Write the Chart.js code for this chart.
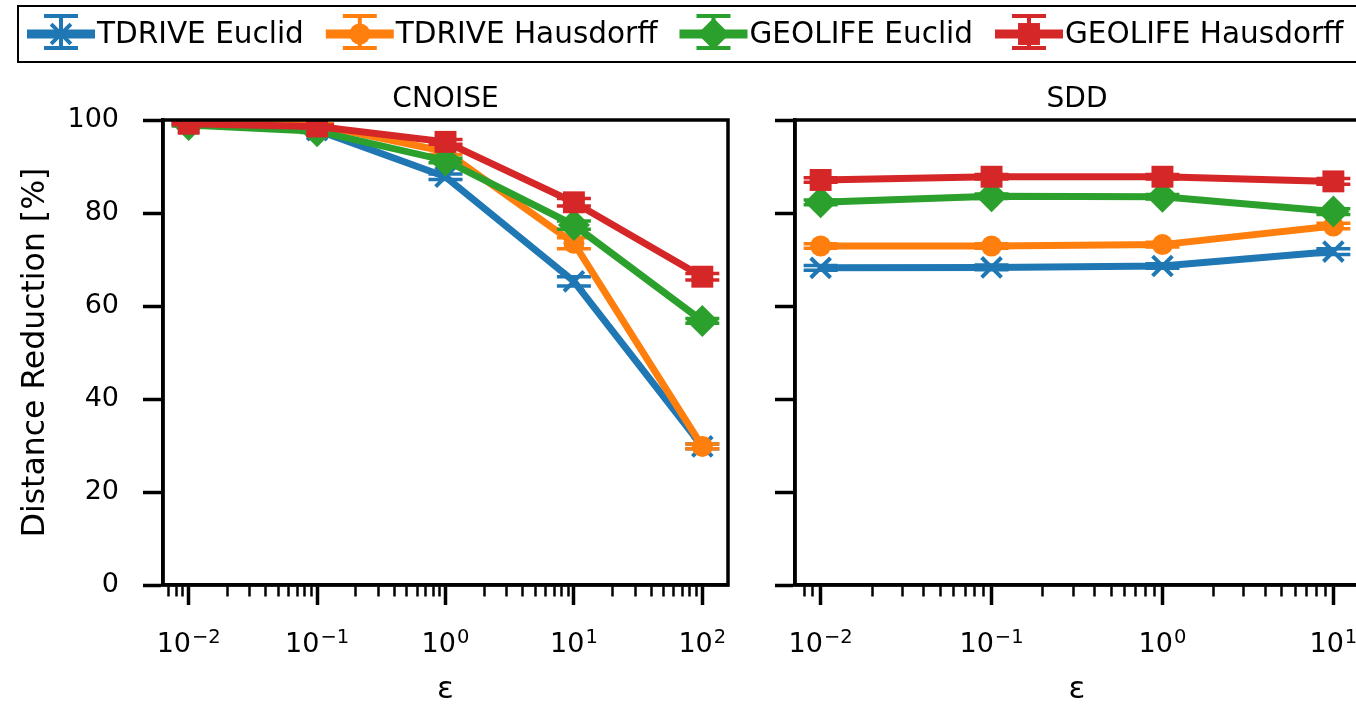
<!DOCTYPE html>
<html><head><meta charset="utf-8">
<script src="https://cdn.jsdelivr.net/npm/chart.js@4/dist/chart.umd.min.js"></script>
<style>
html,body{margin:0;padding:0;background:#fff;overflow:hidden;width:1356px;height:705px;}
#wrap{position:relative;width:1356px;height:705px;overflow:hidden;background:#fff;}
#cA{position:absolute;left:0;top:0;}
#cB{position:absolute;left:700px;top:0;}
</style></head><body>
<div id="wrap"><canvas id="cA" width="1360" height="705"></canvas><canvas id="cB" width="700" height="705"></canvas></div>
<script>
// ---- data ----
const seriesNames = ['TDRIVE Euclid', 'TDRIVE Hausdorff', 'GEOLIFE Euclid', 'GEOLIFE Hausdorff'];
const panelTitles = ['CNOISE', 'SDD'];
const epsCnoise = [0.01, 0.1, 1, 10, 100];
const epsSdd = [0.01, 0.1, 1, 10];
const xTickValues = [0.01, 0.1, 1, 10, 100];
const xTickBases = ['10', '10', '10', '10', '10'];
const xTickExponents = ['\u22122', '\u22121', '0', '1', '2'];
const yTickValues = [0, 20, 40, 60, 80, 100];

const cnoiseTdriveEuclid      = [99.2, 97.8, 87.8, 65.3, 29.8];
const cnoiseTdriveHausdorff   = [99.5, 98.9, 93.2, 73.5, 29.8];
const cnoiseGeolifeEuclid     = [98.9, 97.6, 91.3, 77.4, 56.8];
const cnoiseGeolifeHausdorff  = [99.2, 98.6, 95.3, 82.3, 66.3];
const cnoiseTdriveEuclidErr     = [0.2, 0.3, 0.6, 1.0, 0.5];
const cnoiseTdriveHausdorffErr  = [0.2, 0.3, 0.6, 1.2, 0.5];
const cnoiseGeolifeEuclidErr    = [0.2, 0.3, 0.5, 0.9, 0.5];
const cnoiseGeolifeHausdorffErr = [0.2, 0.3, 0.5, 0.8, 0.7];

const sddTdriveEuclid      = [68.2, 68.3, 68.6, 71.7];
const sddTdriveHausdorff   = [72.9, 72.9, 73.2, 77.2];
const sddGeolifeEuclid     = [82.3, 83.6, 83.5, 80.3];
const sddGeolifeHausdorff  = [87.1, 87.8, 87.8, 86.8];
const sddTdriveEuclidErr     = [0.5, 0.5, 0.5, 0.6];
const sddTdriveHausdorffErr  = [0.5, 0.5, 0.5, 0.6];
const sddGeolifeEuclidErr    = [0.5, 0.5, 0.5, 0.6];
const sddGeolifeHausdorffErr = [0.5, 0.5, 0.5, 0.6];

// ---- styles ----
const FONT = 'DejaVu Sans';
const seriesColors = ['#1f77b4', '#ff7f0e', '#2ca02c', '#d62728'];
const seriesMarkers = ['crossRot', 'circle', 'rectRot', 'rect'];
const markerRadius = [14, 10.5, 16, 15.5];
const markerBorder = [4, 0, 0, 0];
const LINE_W = 7, SPINE_W = 3.5;

function makeDatasets(xs, valsList, errList) {
  return valsList.map((vals, i) => ({
    label: seriesNames[i],
    data: xs.map((x, j) => ({x: x, y: vals[j]})),
    errors: errList[i],
    borderColor: seriesColors[i],
    backgroundColor: seriesColors[i],
    borderWidth: LINE_W,
    pointStyle: seriesMarkers[i],
    pointRadius: markerRadius[i],
    pointBorderWidth: markerBorder[i],
    pointBackgroundColor: seriesColors[i],
    pointBorderColor: seriesColors[i],
    pointHoverRadius: markerRadius[i],
    tension: 0,
    order: 4 - i,
    clip: 0
  }));
}

function majorIndex(v) {
  return xTickValues.findIndex(t => Math.abs(t - v) < 1e-9 * t);
}

function buildLogTicks(scale) {
  const ticks = [];
  const lo = Math.floor(Math.log10(scale.min)), hi = Math.ceil(Math.log10(scale.max));
  for (let n = lo; n <= hi; n++) {
    for (let k = 1; k <= 9; k++) {
      const v = k * Math.pow(10, n);
      if (v >= scale.min && v <= scale.max) ticks.push({value: v, major: k === 1});
    }
  }
  scale.ticks = ticks;
}

function drawMarker(ctx, i, x, y) {
  ctx.save();
  ctx.fillStyle = seriesColors[i];
  ctx.strokeStyle = seriesColors[i];
  ctx.lineWidth = markerBorder[i];
  Chart.helpers.drawPoint(ctx, {pointStyle: seriesMarkers[i], radius: markerRadius[i], borderWidth: markerBorder[i], rotation: 0}, x, y);
  ctx.restore();
}

const errorBarPlugin = {
  id: 'errbars',
  afterDatasetDraw(chart, args) {
    const ds = chart.data.datasets[args.index];
    if (!ds.errors) return;
    const ctx = chart.ctx, a = chart.chartArea;
    const xs = chart.scales.x, ys = chart.scales.y;
    ctx.save();
    ctx.beginPath(); ctx.rect(a.left, a.top, a.right - a.left, a.bottom - a.top); ctx.clip();
    ctx.strokeStyle = ds.borderColor;
    ds.data.forEach((p, j) => {
      const e = ds.errors[j];
      const px = xs.getPixelForValue(p.x);
      const yT = ys.getPixelForValue(p.y + e), yB = ys.getPixelForValue(p.y - e);
      ctx.lineWidth = 4;
      ctx.beginPath(); ctx.moveTo(px, yT); ctx.lineTo(px, yB); ctx.stroke();
      ctx.lineWidth = 3.5;
      ctx.beginPath();
      ctx.moveTo(px - 17, yT); ctx.lineTo(px + 17, yT);
      ctx.moveTo(px - 17, yB); ctx.lineTo(px + 17, yB);
      ctx.stroke();
    });
    ctx.restore();
  }
};

const framePlugin = {
  id: 'frame',
  afterDraw(chart, args, opts) {
    const ctx = chart.ctx, a = chart.chartArea;
    ctx.save();
    ctx.strokeStyle = '#000'; ctx.lineWidth = SPINE_W;
    ctx.strokeRect(a.left, a.top, a.right - a.left, a.bottom - a.top);
    // panel title
    ctx.fillStyle = '#000';
    ctx.font = '28px "' + FONT + '"';
    ctx.textAlign = 'center'; ctx.textBaseline = 'alphabetic';
    ctx.fillText(opts.text, (a.left + a.right) / 2, a.top - 13);
    // x tick labels with superscript exponents (matplotlib mathtext style)
    const xs = chart.scales.x;
    ctx.textAlign = 'left';
    const baseY = a.bottom + 67;
    xTickValues.forEach((v, k) => {
      if (v < xs.min || v > xs.max) return;
      const px = xs.getPixelForValue(v);
      ctx.font = '27px "' + FONT + '"';
      const wb = ctx.measureText(xTickBases[k]).width;
      ctx.font = '19.5px "' + FONT + '"';
      const we = ctx.measureText(xTickExponents[k]).width;
      const x0 = px - (wb + we + 1) / 2;
      ctx.font = '27px "' + FONT + '"';
      ctx.fillText(xTickBases[k], x0, baseY);
      ctx.font = '19.5px "' + FONT + '"';
      ctx.fillText(xTickExponents[k], x0 + wb + 1, baseY - 9);
    });
    ctx.restore();
  }
};

const legendPlugin = {
  id: 'mplLegend',
  afterDraw(chart, args, opts) {
    if (!opts.show) return;
    const ctx = chart.ctx;
    ctx.save();
    ctx.fillStyle = '#fff';
    ctx.fillRect(18, 6, 1400, 56);
    ctx.strokeStyle = '#000'; ctx.lineWidth = 2;
    ctx.strokeRect(18, 6, 1400, 56);
    ctx.font = '29.5px "' + FONT + '"';
    ctx.textBaseline = 'middle'; ctx.textAlign = 'left';
    let x = 27;
    const yc = 34;
    chart.data.datasets.forEach((ds, i) => {
      const c = seriesColors[i];
      ctx.strokeStyle = c;
      ctx.lineWidth = LINE_W + 2;
      ctx.beginPath(); ctx.moveTo(x, yc); ctx.lineTo(x + 68, yc); ctx.stroke();
      const cx = x + 34;
      ctx.lineWidth = 4;
      ctx.beginPath(); ctx.moveTo(cx, 16); ctx.lineTo(cx, 48); ctx.stroke();
      ctx.beginPath(); ctx.moveTo(cx - 17, 16); ctx.lineTo(cx + 17, 16);
      ctx.moveTo(cx - 17, 48); ctx.lineTo(cx + 17, 48); ctx.stroke();
      drawMarker(ctx, i, cx, yc);
      ctx.fillStyle = '#000';
      const tx = x + 70;
      ctx.fillText(ds.label, tx, yc + 1);
      x = tx + ctx.measureText(ds.label).width + 22;
    });
    ctx.restore();
  }
};

function xAxis(minV, maxV) {
  return {
    type: 'logarithmic',
    min: minV, max: maxV,
    afterBuildTicks: buildLogTicks,
    afterFit: s => { s.height = 120; },
    ticks: {
      autoSkip: false, maxRotation: 0, minRotation: 0,
      font: {family: FONT, size: 27}, color: '#000', padding: 6,
      callback: () => ''
    },
    grid: {
      drawOnChartArea: false, drawTicks: true, tickLength: 20,
      tickColor: '#000',
      tickWidth: c => majorIndex(c.tick.value) >= 0 ? 3.5 : 2.5,
      tickBorderDash: c => majorIndex(c.tick.value) >= 0 ? [] : [10, 100]
    },
    border: {display: true, color: '#000', width: SPINE_W},
    title: {display: true, text: '\u03B5', font: {family: FONT, size: 31, lineHeight: 1}, color: '#000', padding: {top: 0, bottom: 0}}
  };
}

function yAxis(showLabels, width) {
  return {
    type: 'linear', min: 0, max: 100,
    afterBuildTicks: s => { s.ticks = yTickValues.map(v => ({value: v})); },
    afterFit: s => { s.width = width; },
    ticks: {
      font: {family: FONT, size: 27}, color: '#000', padding: 24,
      callback: v => showLabels ? String(v) : ''
    },
    grid: {drawOnChartArea: false, drawTicks: true, tickLength: 20, tickColor: '#000', tickWidth: 3.5},
    border: {display: true, color: '#000', width: SPINE_W},
    title: {display: showLabels, text: 'Distance Reduction [%]', font: {family: FONT, size: 31.5}, color: '#000', padding: {top: 17, bottom: 0}}
  };
}

function baseOptions(xMin, xMax, showY, yWidth, padRight, title, showLegend) {
  return {
    responsive: false, animation: false, devicePixelRatio: 1,
    layout: {padding: {left: 0, top: 120, right: padRight, bottom: 0}},
    scales: {x: xAxis(xMin, xMax), y: yAxis(showY, yWidth)},
    plugins: {
      legend: {display: false}, tooltip: {enabled: false}, title: {display: false},
      frame: {text: title},
      mplLegend: {show: showLegend}
    }
  };
}

new Chart(document.getElementById('cA'), {
  type: 'line',
  data: {datasets: makeDatasets(epsCnoise,
    [cnoiseTdriveEuclid, cnoiseTdriveHausdorff, cnoiseGeolifeEuclid, cnoiseGeolifeHausdorff],
    [cnoiseTdriveEuclidErr, cnoiseTdriveHausdorffErr, cnoiseGeolifeEuclidErr, cnoiseGeolifeHausdorffErr])},
  options: baseOptions(Math.pow(10, -2.2), Math.pow(10, 2.2), true, 163, 632, panelTitles[0], true),
  plugins: [errorBarPlugin, framePlugin, legendPlugin]
});

new Chart(document.getElementById('cB'), {
  type: 'line',
  data: {datasets: makeDatasets(epsSdd,
    [sddTdriveEuclid, sddTdriveHausdorff, sddGeolifeEuclid, sddGeolifeHausdorff],
    [sddTdriveEuclidErr, sddTdriveHausdorffErr, sddGeolifeEuclidErr, sddGeolifeHausdorffErr])},
  options: baseOptions(Math.pow(10, -2.15), Math.pow(10, 1.15), false, 95, 41, panelTitles[1], false),
  plugins: [errorBarPlugin, framePlugin, legendPlugin]
});
</script>
</body></html>
